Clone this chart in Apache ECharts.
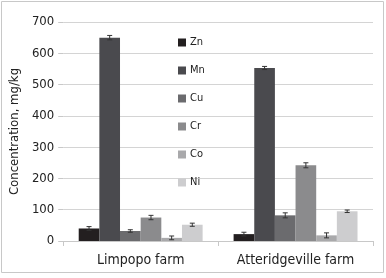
<!DOCTYPE html>
<html>
<head>
<meta charset="utf-8">
<script src="https://cdn.jsdelivr.net/npm/echarts@6/dist/echarts.min.js"></script>
<style>
  html, body { margin: 0; padding: 0; background: #fff; }
  #main { width: 386px; height: 278px; }
</style>
</head>
<body>
<div id="main"></div>
<script>
// farms on the x axis
const farms = ['Limpopo farm', 'Atteridgeville farm'];
const metals = ['Zn', 'Mn', 'Cu', 'Cr', 'Co', 'Ni'];
const colors = ['#231f20', '#4a4a4e', '#6b6b6e', '#8b8b8d', '#a9a9ab', '#cdcdcf'];
// mean concentration per metal, [Limpopo, Atteridgeville]
const zn = [40, 22];
const mn = [650, 553];
const cu = [32, 82];
const cr = [75, 242];
const co = [10, 18];
const ni = [52, 95];
// error bar half widths
const znErr = [6, 6];
const mnErr = [7, 5];
const cuErr = [4, 8];
const crErr = [7, 8];
const coErr = [6, 8];
const niErr = [5, 4];
const yTicks = [0, 100, 200, 300, 400, 500, 600, 700];

const values = [zn, mn, cu, cr, co, ni];
const errs = [znErr, mnErr, cuErr, crErr, coErr, niErr];
const font = "'Liberation Sans Narrow', 'DejaVu Sans Condensed', 'Roboto Condensed', sans-serif";
const gapFrac = 0.2;

const series = [];
metals.forEach(function (m, i) {
  series.push({
    name: m,
    type: 'bar',
    data: values[i],
    barGap: 0,
    barCategoryGap: '20%',
    itemStyle: { color: colors[i] }
  });
});
metals.forEach(function (m, i) {
  series.push({
    type: 'custom',
    silent: true,
    z: 5,
    data: values[i].map(function (v, k) { return [k, v - errs[i][k], v + errs[i][k]]; }),
    renderItem: function (params, api) {
      const band = api.size([1, 0])[0];
      const bw = band * (1 - gapFrac) / metals.length;
      const c = api.coord([api.value(0), api.value(1)]);
      const x = c[0] - band * (1 - gapFrac) / 2 + (i + 0.5) * bw;
      const lo = c[1];
      const hi = api.coord([api.value(0), api.value(2)])[1];
      const st = { stroke: '#333', lineWidth: 1 };
      return {
        type: 'group',
        children: [
          { type: 'line', shape: { x1: x, y1: lo, x2: x, y2: hi }, style: st },
          { type: 'line', shape: { x1: x - 2.5, y1: lo, x2: x + 2.5, y2: lo }, style: st },
          { type: 'line', shape: { x1: x - 2.5, y1: hi, x2: x + 2.5, y2: hi }, style: st }
        ]
      };
    }
  });
});

const chart = echarts.init(document.getElementById('main'));
chart.setOption({
  animation: false,
  textStyle: { fontFamily: font },
  grid: { left: 58, right: 13, top: 22, bottom: 37 },
  graphic: [{
    type: 'rect',
    shape: { x: 1.5, y: 1.5, width: 382, height: 271 },
    style: { fill: 'none', stroke: '#c8c8c8', lineWidth: 1 },
    silent: true
  }],
  legend: {
    data: metals,
    orient: 'vertical',
    left: 173,
    top: 32,
    itemWidth: 8,
    itemHeight: 8,
    itemGap: 17,
    icon: 'rect',
    textStyle: { fontFamily: font, fontSize: 11, color: '#222', padding: [0, 0, 0, -1] }
  },
  xAxis: {
    type: 'category',
    data: farms,
    axisLine: { lineStyle: { color: '#c8c8c8' } },
    axisTick: { show: true, length: 5, lineStyle: { color: '#c8c8c8' } },
    axisLabel: { fontFamily: font, fontSize: 14, color: '#222', margin: 12 }
  },
  yAxis: {
    type: 'value',
    min: yTicks[0],
    max: yTicks[yTicks.length - 1],
    interval: 100,
    name: 'Concentration, mg/kg',
    nameLocation: 'middle',
    nameGap: 40,
    nameTextStyle: { fontFamily: font, fontSize: 13, color: '#222' },
    axisLine: { show: false },
    axisTick: { show: true, length: 5, lineStyle: { color: '#c8c8c8' } },
    axisLabel: { fontFamily: font, fontSize: 13, color: '#222', margin: 9 },
    splitLine: { lineStyle: { color: '#d4d4d4' } }
  },
  series: series
});
</script>
</body>
</html>
